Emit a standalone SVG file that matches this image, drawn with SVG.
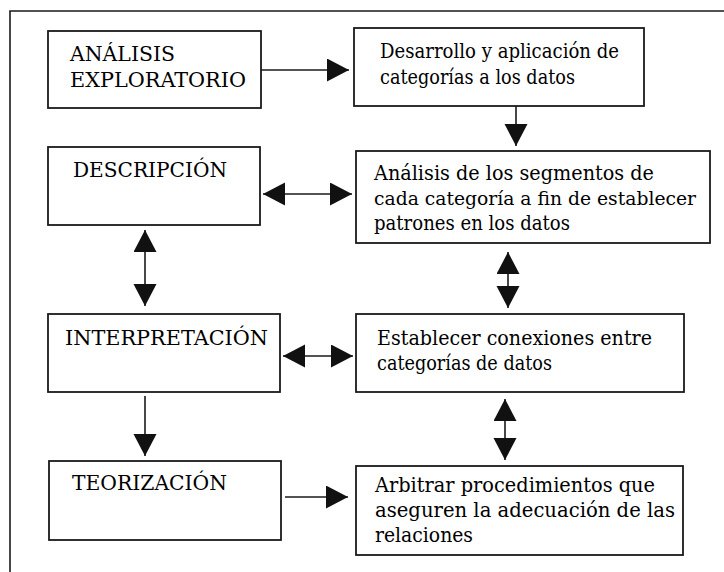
<svg xmlns="http://www.w3.org/2000/svg" width="724" height="572" viewBox="0 0 724 572">
<style>
.box{fill:#fff;stroke:#1a1a1a;stroke-width:1.8}
.t{font-family:"DejaVu Serif","Liberation Serif","Noto Serif","Times New Roman",serif;font-size:21px;fill:#000}
.t.sm{font-size:19px}
.c{stroke:#1a1a1a;stroke-width:1.6;fill:none}
.frame{stroke:#1a1a1a;stroke-width:1.6;fill:none}
</style>
<defs>
<marker id="ah" markerUnits="userSpaceOnUse" markerWidth="24" markerHeight="24" refX="22" refY="11.5" orient="auto-start-reverse" viewBox="0 0 24 24">
<path d="M0,0 L22,11.5 L0,23 Z" fill="#111"/>
</marker>
</defs>
<rect width="724" height="572" fill="#fff"/>
<path class="frame" d="M10,572 V11 H724"/>
<g id="n-analisis">
<rect class="box" x="48" y="31" width="213" height="77"/>
<text class="t" x="70" y="61" textLength="105" lengthAdjust="spacingAndGlyphs">ANÁLISIS</text>
<text class="t" x="70" y="87" textLength="176" lengthAdjust="spacingAndGlyphs">EXPLORATORIO</text>
</g>
<g id="n-descripcion">
<rect class="box" x="48" y="147" width="212" height="78"/>
<text class="t" x="73" y="177" textLength="154" lengthAdjust="spacingAndGlyphs">DESCRIPCIÓN</text>
</g>
<g id="n-interpretacion">
<rect class="box" x="48" y="314" width="232" height="78"/>
<text class="t" x="65" y="345" textLength="203" lengthAdjust="spacingAndGlyphs">INTERPRETACIÓN</text>
</g>
<g id="n-teorizacion">
<rect class="box" x="49" y="461" width="232" height="79"/>
<text class="t" x="72" y="490" textLength="155" lengthAdjust="spacingAndGlyphs">TEORIZACIÓN</text>
</g>
<g id="n-desarrollo">
<rect class="box" x="354" y="28" width="290" height="78"/>
<text class="t" x="380" y="58" textLength="239" lengthAdjust="spacingAndGlyphs">Desarrollo y aplicación de</text>
<text class="t" x="380" y="84" textLength="195" lengthAdjust="spacingAndGlyphs">categorías a los datos</text>
</g>
<g id="n-segmentos">
<rect class="box" x="356" y="151" width="354" height="92"/>
<text class="t" x="374" y="180" textLength="280" lengthAdjust="spacingAndGlyphs">Análisis de los segmentos de</text>
<text class="t sm" x="374" y="205" textLength="322" lengthAdjust="spacingAndGlyphs">cada categoría a fin de establecer</text>
<text class="t" x="374" y="230" textLength="196" lengthAdjust="spacingAndGlyphs">patrones en los datos</text>
</g>
<g id="n-conexiones">
<rect class="box" x="356" y="314" width="328" height="78"/>
<text class="t" x="377" y="345" textLength="275" lengthAdjust="spacingAndGlyphs">Establecer conexiones entre</text>
<text class="t" x="377" y="370" textLength="175" lengthAdjust="spacingAndGlyphs">categorías de datos</text>
</g>
<g id="n-arbitrar">
<rect class="box" x="356" y="466" width="327" height="89"/>
<text class="t" x="375" y="492" textLength="280" lengthAdjust="spacingAndGlyphs">Arbitrar procedimientos que</text>
<text class="t" x="375" y="517" textLength="300" lengthAdjust="spacingAndGlyphs">aseguren la adecuación de las</text>
<text class="t" x="375" y="542" textLength="98" lengthAdjust="spacingAndGlyphs">relaciones</text>
</g>
<g id="connectors">
<line class="c" x1="261" y1="70" x2="349" y2="70" marker-end="url(#ah)"/>
<line class="c" x1="516" y1="106" x2="516" y2="146" marker-end="url(#ah)"/>
<line class="c" x1="263" y1="194" x2="352" y2="194" marker-start="url(#ah)" marker-end="url(#ah)"/>
<line class="c" x1="145" y1="230" x2="145" y2="306" marker-start="url(#ah)" marker-end="url(#ah)"/>
<line class="c" x1="508" y1="252" x2="508" y2="308" marker-start="url(#ah)" marker-end="url(#ah)"/>
<line class="c" x1="283" y1="356" x2="353" y2="356" marker-start="url(#ah)" marker-end="url(#ah)"/>
<line class="c" x1="145" y1="396" x2="145" y2="456" marker-end="url(#ah)"/>
<line class="c" x1="505" y1="399" x2="505" y2="460" marker-start="url(#ah)" marker-end="url(#ah)"/>
<line class="c" x1="285" y1="497" x2="348" y2="497" marker-end="url(#ah)"/>
</g>
</svg>
